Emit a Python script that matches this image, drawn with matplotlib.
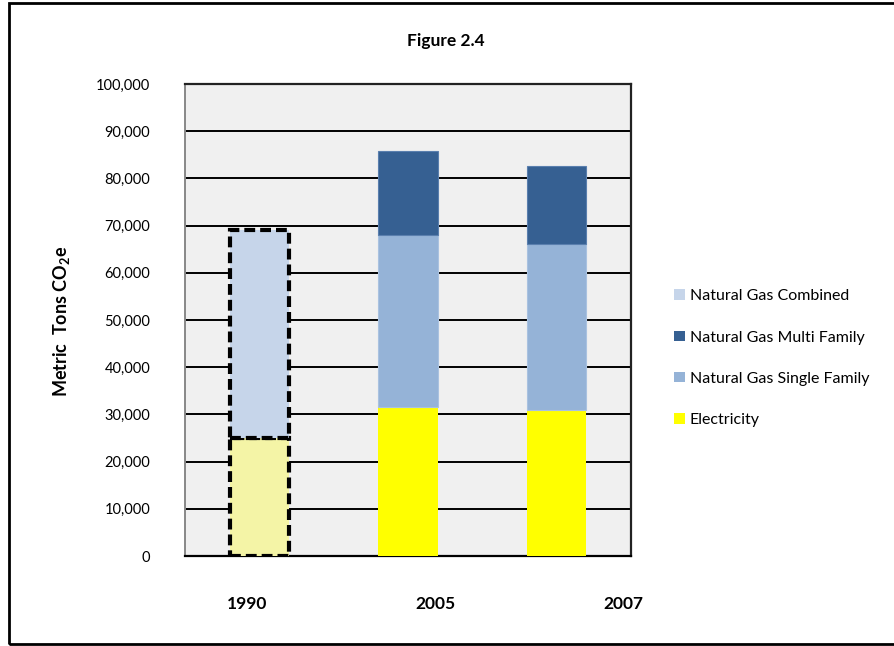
import matplotlib
matplotlib.use("Agg")
import matplotlib.pyplot as plt
from matplotlib.patches import Patch, Rectangle
from matplotlib.ticker import FuncFormatter, MultipleLocator

plt.rcParams['font.family'] = ['Lato', 'DejaVu Sans']
plt.rcParams['mathtext.fontset'] = 'custom'
plt.rcParams['mathtext.rm'] = 'Lato'
plt.rcParams['mathtext.bf'] = 'Lato:bold'

# Emissions data (metric tons CO2e)
years = ["1990", "2005", "2007"]
electricity = [25000, 31500, 31000]
gas_single = [0, 36600, 35200]
gas_multi = [0, 17800, 16500]
gas_combined = [44000, 0, 0]

series_labels = ["Electricity", "Natural Gas Single Family",
                 "Natural Gas Multi Family", "Natural Gas Combined"]
col_elec = "#FFFF00"
col_elec_1990 = "#F4F4A6"
col_single = "#95B3D7"
col_multi = "#366092"
col_combined = "#C6D5EA"

fig = plt.figure(figsize=(8.94, 6.46), dpi=100)
ax = fig.add_axes([185 / 894, 1 - 556 / 646, (631 - 185) / 894, (556 - 84) / 646])
ax.set_facecolor("#F0F0F0")

x = list(range(len(years)))
w = 0.4

# 1990 baseline bar: estimated values, drawn with dashed outline
dash = (0, (2.6, 1.2))
ax.bar(x[0], electricity[0], width=w, color=col_elec_1990, edgecolor="black",
       linestyle=dash, linewidth=3, zorder=3)
ax.bar(x[0], gas_combined[0], bottom=electricity[0], width=w, color=col_combined,
       edgecolor="black", linestyle=dash, linewidth=3, zorder=3)

# 2005 and 2007 stacked bars
xs = x[1:]
e = electricity[1:]
s = gas_single[1:]
m = gas_multi[1:]
ax.bar(xs, e, width=w, color=col_elec, zorder=3)
ax.bar(xs, s, bottom=e, width=w, color=col_single, edgecolor="#A9C2E0",
       linewidth=0.8, zorder=3)
ax.bar(xs, m, bottom=[a + b for a, b in zip(e, s)], width=w, color=col_multi,
       edgecolor="#5A7FAE", linewidth=0.8, zorder=3)

ax.set_xlim(-0.5, 2.5)
ax.set_ylim(0, 100000)
ax.yaxis.set_major_locator(MultipleLocator(10000))
ax.yaxis.set_major_formatter(FuncFormatter(lambda v, p: f"{int(v):,}"))
ax.grid(axis="y", color="black", linewidth=1.4, zorder=1)
ax.tick_params(axis="y", length=0, pad=25, labelsize=10.5)
ax.tick_params(axis="x", length=0)
ax.set_xticks([])

for side in ["top", "right"]:
    ax.spines[side].set_color("#222222")
    ax.spines[side].set_linewidth(1.6)
ax.spines["left"].set_color("#888888")
ax.spines["left"].set_linewidth(1.4)
ax.spines["bottom"].set_color("black")
ax.spines["bottom"].set_linewidth(1.6)

# Year labels placed beneath the axis
year_label_px = [247, 435, 623]
for lbl, px in zip(years, year_label_px):
    fig.text(px / 894, 1 - 604 / 646, lbl, ha="center", va="center",
             fontsize=12.5, fontweight="bold")

fig.text(446 / 894, 1 - 41 / 646, "Figure 2.4", ha="center", va="center",
         fontsize=12.5, fontweight="bold")
fig.text(61 / 894, 1 - 321 / 646, r"Metric  Tons CO$_\mathbf{2}$e", rotation=90,
         ha="center", va="center", fontsize=13, fontweight="bold")

handles = [Patch(facecolor=col_combined, label=series_labels[3]),
           Patch(facecolor=col_multi, label=series_labels[2]),
           Patch(facecolor=col_single, label=series_labels[1]),
           Patch(facecolor=col_elec, label=series_labels[0])]
fig.legend(handles=handles, loc="upper left",
           bbox_to_anchor=(668 / 894, 1 - 283 / 646), frameon=False,
           fontsize=11.5, handlelength=0.65, handleheight=0.65,
           handletextpad=0.3, labelspacing=1.7, borderaxespad=0)

# Outer frame around the figure
fig.add_artist(Rectangle((8.5 / 894, 1 - 644 / 646), (900 - 8.5) / 894,
                         (644 - 3) / 646, transform=fig.transFigure,
                         fill=False, edgecolor="black", linewidth=2))

fig.savefig("out.png", dpi=100)
